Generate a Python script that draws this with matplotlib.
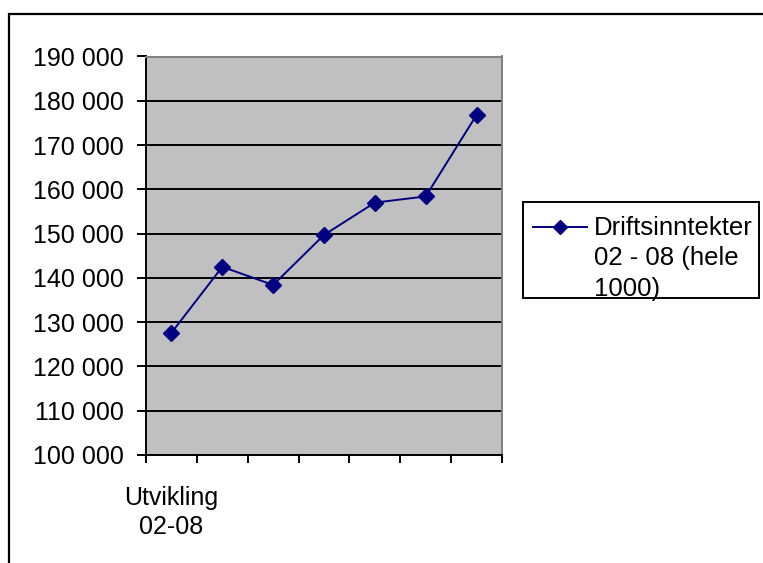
import matplotlib
matplotlib.use("Agg")
import matplotlib.pyplot as plt
from matplotlib.patches import Rectangle
from matplotlib.lines import Line2D
from matplotlib.ticker import FuncFormatter, FixedLocator

plt.rcParams['font.family'] = ['Liberation Sans', 'DejaVu Sans']

categories = ["Utvikling\n02-08", "", "", "", "", "", ""]
values = [127600, 142500, 138400, 149700, 157000, 158400, 176800]
series_label = "Driftsinntekter\n02 - 08 (hele\n1000)"
yticks = list(range(100000, 190001, 10000))

W, H = 763, 563
fig = plt.figure(figsize=(W / 100, H / 100), dpi=100)
fig.patch.set_facecolor('white')


def fx(px):
    return px / W


def fy(py):
    return 1 - py / H


# outer chart frame (runs off right/bottom edges)
fig.patches.append(Rectangle((fx(9), -0.2), 1.2, fy(14) + 0.2,
                             transform=fig.transFigure, fill=False,
                             edgecolor='black', linewidth=1.6))

ax = fig.add_axes([fx(146), fy(455), 356 / W, 398.5 / H])
ax.set_facecolor('#C0C0C0')

line_color = '#000080'
x = list(range(len(values)))
ax.plot(x, values, color=line_color, linewidth=1.4, marker='D',
        markersize=8, markerfacecolor=line_color, markeredgecolor=line_color,
        label=series_label, zorder=3)

ax.set_xlim(-0.5, len(values) - 0.5)
ax.set_ylim(yticks[0], yticks[-1])
ax.set_yticks(yticks)
ax.yaxis.set_major_formatter(FuncFormatter(lambda v, p: f"{int(v):,}".replace(",", " ")))
ax.grid(axis='y', color='black', linewidth=1.4, zorder=1)
ax.set_axisbelow(True)

ax.set_xticks(x)
ax.set_xticklabels(categories, fontsize=18, linespacing=1.3)
ax.xaxis.set_minor_locator(FixedLocator([i - 0.5 for i in range(len(values) + 1)]))
ax.tick_params(axis='x', which='major', length=0, pad=22)
ax.tick_params(axis='x', which='minor', length=6, width=1.4, direction='out', color='black')
ax.tick_params(axis='y', which='major', length=6.5, width=1.4, direction='out',
               labelsize=18, pad=9.5, color='black')

for s in ['left', 'bottom']:
    ax.spines[s].set_color('black')
    ax.spines[s].set_linewidth(1.4)
for s in ['top', 'right']:
    ax.spines[s].set_color('#808080')
    ax.spines[s].set_linewidth(1.4)

# legend (drawn manually so the key sits beside the first text line)
fig.patches.append(Rectangle((fx(522.7), fy(298.3)), (759.3 - 522.7) / W, (298.3 - 202) / H,
                             transform=fig.transFigure, facecolor='white',
                             edgecolor='black', linewidth=1.4, zorder=5))
fig.lines.append(Line2D([fx(533.3), fx(586.7)], [fy(227.3), fy(227.3)],
                        transform=fig.transFigure, color=line_color, linewidth=1.4, zorder=6))
fig.lines.append(Line2D([fx(560)], [fy(227.3)], transform=fig.transFigure,
                        marker='D', markersize=7, color=line_color, zorder=6))
fig.text(fx(594), fy(216), series_label, fontsize=18.5, va='top', ha='left',
         linespacing=1.33, zorder=6)

fig.savefig('out.png', dpi=100, facecolor='white')
